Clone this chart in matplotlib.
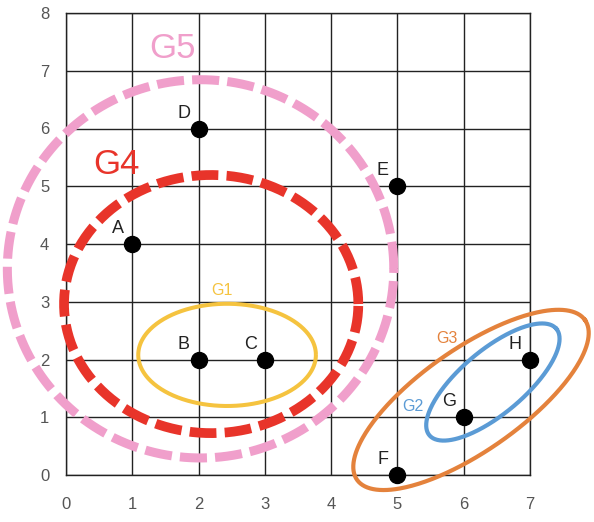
import numpy as np
import matplotlib
matplotlib.use("Agg")
import matplotlib.pyplot as plt

# ---- data ----
point_names = ["A", "B", "C", "D", "E", "F", "G", "H"]
point_x = [1, 2, 3, 2, 5, 5, 6, 7]
point_y = [4, 2, 2, 6, 5, 0, 1, 2]

x_ticks = [0, 1, 2, 3, 4, 5, 6, 7]
y_ticks = [0, 1, 2, 3, 4, 5, 6, 7, 8]

# axis-aligned groups (data units): center x, center y, width, height
axis_groups = ["G1", "G4", "G5"]
axis_cx = [2.43, 2.19, 2.03]
axis_cy = [2.08, 2.96, 3.57]
axis_w = [2.68, 4.44, 5.83]
axis_h = [1.77, 4.47, 6.55]

# tilted groups: center (data), semi-axes (x units), angle (deg, on screen)
tilt_groups = ["G2", "G3"]
tilt_cx = [6.44, 6.11]
tilt_cy = [1.61, 1.30]
tilt_a = [1.25, 2.10]
tilt_b = [0.48, 0.77]
tilt_ang = [40, 35]

# group label positions
label_names = ["G1", "G2", "G3", "G4", "G5"]
label_x = [2.36, 5.24, 5.74, 0.76, 1.61]
label_y = [3.19, 1.18, 2.36, 5.37, 7.38]

colors = {"G1": "#F5C33F", "G2": "#5B9BD5", "G3": "#E4823C",
          "G4": "#E8342A", "G5": "#F09FCB"}
label_sizes = {"G1": 11.5, "G2": 11.5, "G3": 11.5, "G4": 25, "G5": 25}
styles = {"G1": dict(lw=2.9), "G4": dict(lw=7.0, dashes=(2.75, 0.85)),
          "G5": dict(lw=6.5, dashes=(3.0, 0.9))}

font = ["Liberation Sans Narrow", "Liberation Sans", "DejaVu Sans"]
plt.rcParams["font.family"] = font

fig = plt.figure(figsize=(5.94, 5.22), dpi=100)
ax = fig.add_axes([66 / 594, 47 / 522, 464 / 594, 462 / 522])
ax.set_xlim(0, 7)
ax.set_ylim(0, 8)
ax.set_xticks(x_ticks)
ax.set_yticks(y_ticks)
ax.grid(True, color="#222222", lw=1.0)
ax.set_axisbelow(True)
for s in ax.spines.values():
    s.set_color("#222222")
    s.set_linewidth(1.0)
ax.tick_params(axis="both", length=0, labelcolor="#555555", labelsize=12)
ax.tick_params(axis="x", pad=16)
ax.tick_params(axis="y", pad=12)

t = np.linspace(0, 2 * np.pi, 400)

for name, cx, cy, w, h in zip(axis_groups, axis_cx, axis_cy, axis_w, axis_h):
    st = styles[name]
    xs = cx + w / 2 * np.cos(t)
    ys = cy + h / 2 * np.sin(t)
    line, = ax.plot(xs, ys, color=colors[name], lw=st["lw"], clip_on=False,
                    solid_capstyle="butt", zorder=3)
    if "dashes" in st:
        line.set_dashes(st["dashes"])

# ratio to convert x-units into y-units on screen
fig.canvas.draw()
bb = ax.get_window_extent()
px_x = bb.width / 7
px_y = bb.height / 8
ratio = px_x / px_y

for name, cx, cy, a, b, ang in zip(tilt_groups, tilt_cx, tilt_cy, tilt_a, tilt_b, tilt_ang):
    th = np.deg2rad(ang)
    dx = a * np.cos(t) * np.cos(th) - b * np.sin(t) * np.sin(th)
    dy = a * np.cos(t) * np.sin(th) + b * np.sin(t) * np.cos(th)
    ax.plot(cx + dx, cy + dy * ratio, color=colors[name], lw=3.0,
            clip_on=False, zorder=3)

for name, lx, ly in zip(label_names, label_x, label_y):
    ax.text(lx, ly, name, color=colors[name], fontsize=label_sizes[name],
            ha="center", va="center", zorder=5,
            family=["Liberation Sans", "DejaVu Sans"] if label_sizes[name] > 20 else font)

ax.plot(point_x, point_y, "o", color="black", ms=11.5, clip_on=False, zorder=6)
for n, px, py in zip(point_names, point_x, point_y):
    ax.annotate(n, (px, py), xytext=(-10.5, 11), textcoords="offset points",
                ha="center", va="center", fontsize=13, color="#222222", zorder=7)

fig.savefig("out.png", dpi=100)
